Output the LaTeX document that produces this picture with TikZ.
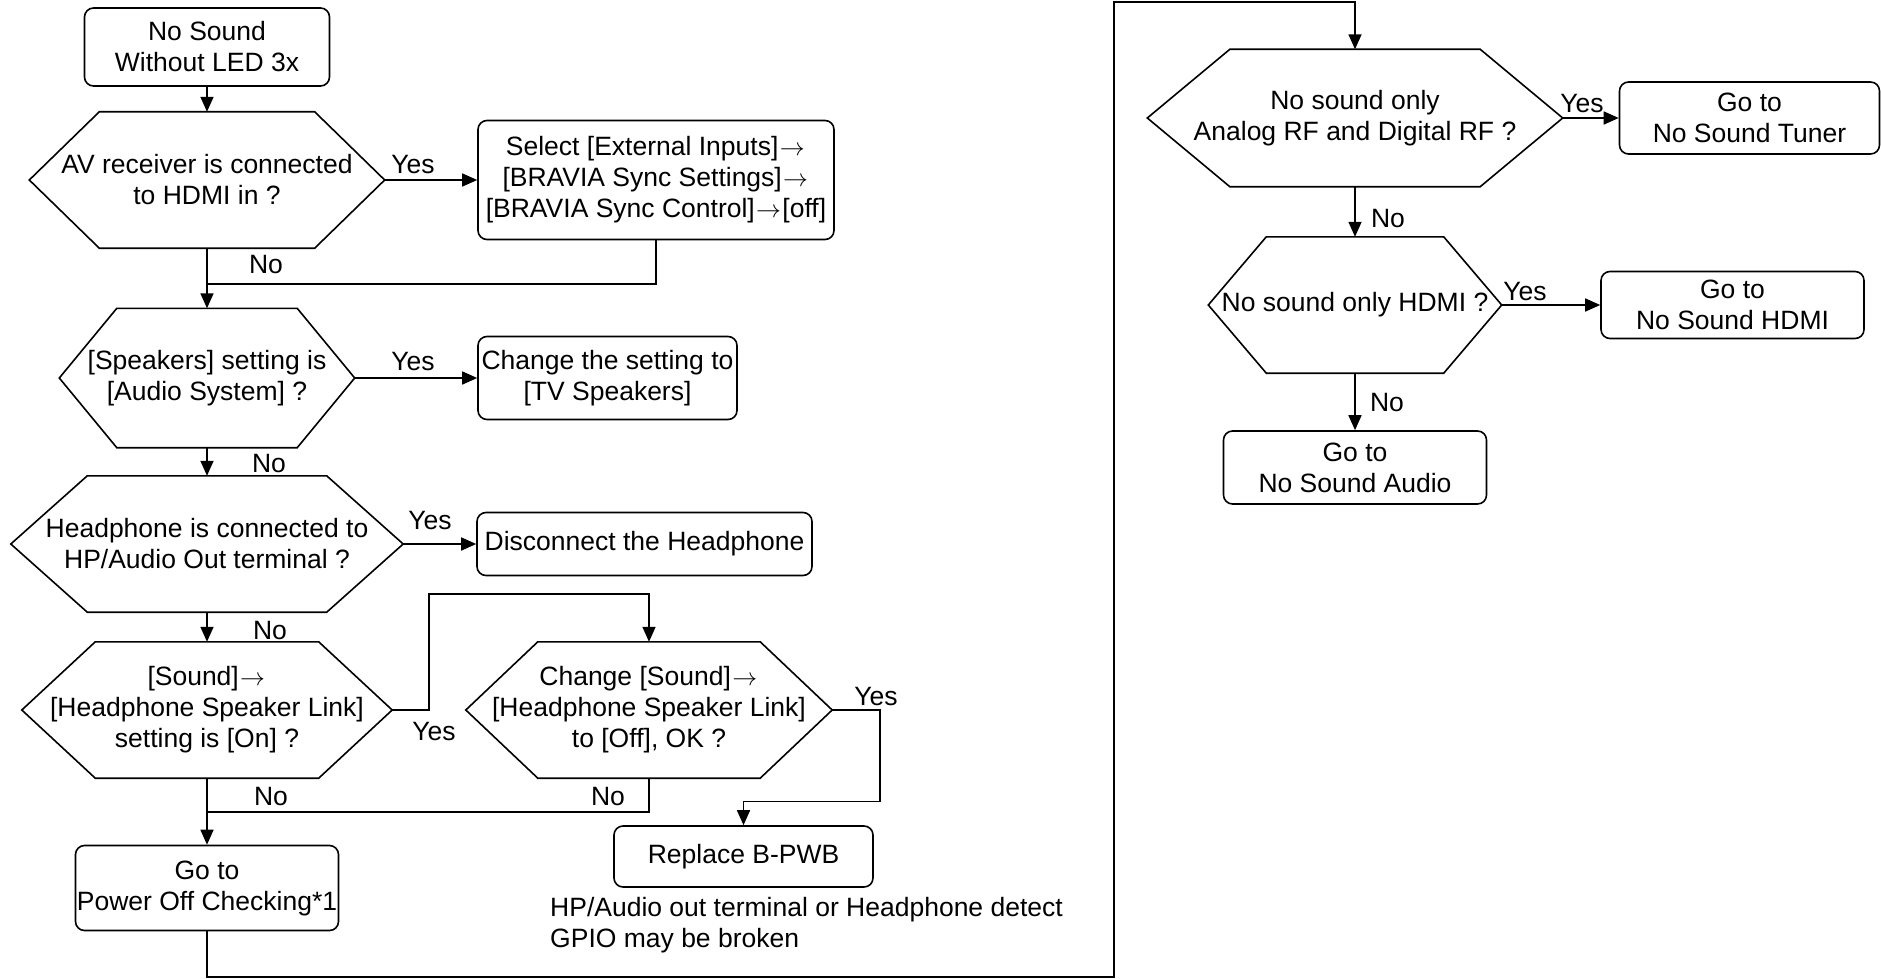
\documentclass[tikz,border=0pt]{standalone}
\usepackage{fontspec}
\setmainfont{Liberation Sans}
\usetikzlibrary{arrows.meta}
\newcommand{\rarr}{\ensuremath{\mkern1mu\rightarrow\mkern1mu}}
\tikzset{
  every node/.style={font=\fontsize{26.5}{31}\selectfont, inner sep=0pt},
  boxnode/.style={draw, line width=1.6pt, rounded corners=9pt, align=center},
  hexnode/.style={align=center},
  hexline/.style={draw, line width=1.6pt, line join=miter},
  conn/.style={line width=1.6pt},
  arr/.style={conn, -{Triangle[length=15pt,width=13pt]}},
  lbl/.style={anchor=base},
}
% name, cx, cy, half width, half height, slant run, text
\newcommand{\hexdec}[7]{%
  \node[hexnode, minimum width=#4*2pt, minimum height=#5*2pt] (#1) at (#2,#3) {#7};
  \draw[hexline] (#1.west) -- ([xshift=#6pt]#1.north west) -- ([xshift=-#6pt]#1.north east)
     -- (#1.east) -- ([xshift=-#6pt]#1.south east) -- ([xshift=#6pt]#1.south west) -- cycle;
}
\begin{document}
\begin{tikzpicture}[x=1pt,y=-1pt]
\useasboundingbox (0,0) rectangle (1881,979);

% left column
\node[boxnode, minimum width=245pt, minimum height=78pt] (b1) at (207,47) {No Sound\\Without LED 3x};
\hexdec{h1}{207}{180}{177.5}{68}{70}{AV receiver is connected\\to HDMI in ?}
\node[boxnode, minimum width=356pt, minimum height=119pt] (b2) at (656,180) {Select [External Inputs]\rarr\\{}[BRAVIA Sync Settings]\rarr\\{}[BRAVIA Sync Control]\rarr[off]};
\hexdec{h2}{207}{378}{147.5}{69.5}{57.5}{{}[Speakers] setting is\\{}[Audio System] ?}
\node[boxnode, minimum width=259pt, minimum height=83pt] (b3) at (607.5,378) {Change the setting to\\{}[TV Speakers]};
\hexdec{h3}{207}{544}{196}{68}{76.5}{Headphone is connected to\\HP/Audio Out terminal ?}
\node[boxnode, minimum width=335pt, minimum height=63pt] (b4) at (644.5,544) {Disconnect the Headphone};
\hexdec{h4}{207}{710}{185}{68}{73.5}{{}[Sound]\rarr\\{}[Headphone Speaker Link]\\setting is [On] ?}
\hexdec{h5}{649}{710}{183}{68}{72}{Change [Sound]\rarr\\{}[Headphone Speaker Link]\\to [Off], OK ?}
\node[boxnode, minimum width=259pt, minimum height=61pt] (b6) at (743.5,856.5) {Replace B-PWB};
\node[boxnode, minimum width=263pt, minimum height=85pt] (b7) at (207,888) {Go to\\Power Off Checking*1};
\node[anchor=north west, align=left] (note) at (550,897) {HP/Audio out terminal or Headphone detect\\GPIO may be broken};

% right column
\hexdec{h6}{1355}{118}{207.5}{68.5}{82.5}{No sound only\\Analog RF and Digital RF ?}
\node[boxnode, minimum width=260pt, minimum height=72pt] (b8) at (1749.5,118) {Go to\\No Sound Tuner};
\hexdec{h7}{1355}{305}{146.5}{68}{58}{No sound only HDMI ?}
\node[boxnode, minimum width=263pt, minimum height=67pt] (b9) at (1732.5,305) {Go to\\No Sound HDMI};
\node[boxnode, minimum width=263pt, minimum height=73pt] (b10) at (1355,467.5) {Go to\\No Sound Audio};

% labels
\node[lbl] (y1) at (413,173) {Yes};
\node[lbl] (n1) at (266,273) {No};
\node[lbl] (y2) at (413,370) {Yes};
\node[lbl] (n2) at (269,472) {No};
\node[lbl] (y3) at (430,529) {Yes};
\node[lbl] (n3) at (270,639) {No};
\node[lbl] (y4) at (434,740) {Yes};
\node[lbl] (y5) at (876,705) {Yes};
\node[lbl] (n4) at (271,805) {No};
\node[lbl] (n5) at (608,805) {No};
\node[lbl] (y6) at (1582,113) {Yes};
\node[lbl] (n6) at (1388,227) {No};
\node[lbl] (y7) at (1525,300) {Yes};
\node[lbl] (n7) at (1387,411) {No};

% junctions / bends
\coordinate (j1) at (207,284);
\coordinate (j2) at (207,812);
\coordinate (c1) at (429,594);
\coordinate (c2) at (880,801.5);
\coordinate (c3) at (1114,977);
\coordinate (c4) at (1355,2);

% connectors
\draw[arr] (b1.south) -- (h1.north);
\draw[arr] (h1.east) -- (b2.west);
\draw[conn] (b2.south) |- (j1);
\draw[arr] (h1.south) -- (h2.north);
\draw[arr] (h2.east) -- (b3.west);
\draw[arr] (h2.south) -- (h3.north);
\draw[arr] (h3.east) -- (b4.west);
\draw[arr] (h3.south) -- (h4.north);
\draw[arr] (h4.east) -| (c1) -| (h5.north);
\draw[arr] (h5.east) -| (c2) -| (b6.north);
\draw[conn] (h5.south) |- (j2);
\draw[arr] (h4.south) -- (b7.north);
\draw[arr] (b7.south) |- (c3) |- (c4) -- (h6.north);
\draw[arr] (h6.east) -- (b8.west);
\draw[arr] (h6.south) -- (h7.north);
\draw[arr] (h7.east) -- (b9.west);
\draw[arr] (h7.south) -- (b10.north);
\end{tikzpicture}
\end{document}
